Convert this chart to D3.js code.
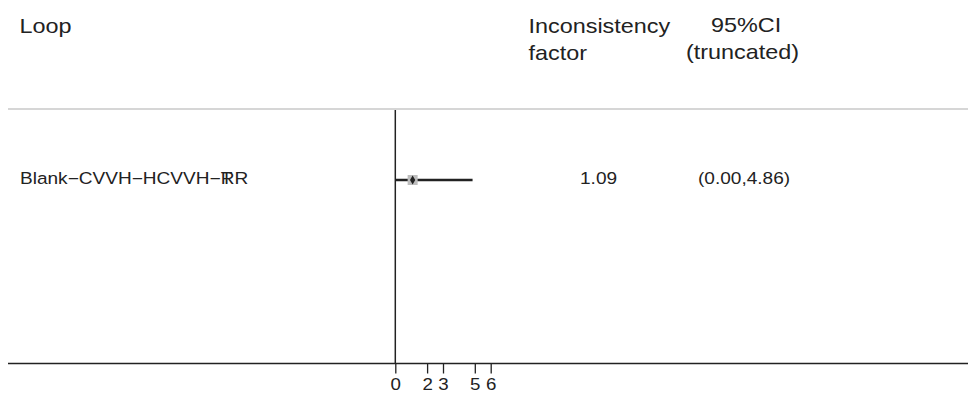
<!DOCTYPE html>
<html>
<head>
<meta charset="utf-8">
<script src="https://cdn.jsdelivr.net/npm/d3@7"></script>
<style>
  body { margin: 0; background: #fff; }
  text { font-family: "Liberation Sans", Arial, sans-serif; fill: #222; }
</style>
</head>
<body>
<svg id="chart" width="972" height="397"></svg>
<script>
// data
var loops = ["Blank\u2212CVVH\u2212HCVVH\u2212TRR"];
var ifValues = [1.09];
var ciLow = [0.00];
var ciHigh = [4.86];
var ifLabels = ["1.09"];
var ciLabels = ["(0.00,4.86)"];
var xTicks = [0, 2, 3, 5, 6];

var svg = d3.select("#chart");
// the original text is a bit wide, so stretch it horizontally
var stretch = 1.17;
var headSize = 20, bodySize = 16.3, tickSize = 16;

var x = d3.scaleLinear().domain([0, 6]).range([395.3, 490.7]);
var y = d3.scaleLinear().domain([0, 1]).range([180, 230]);

var axisY = 363.5;

function addText(parent, px, py, str, size) {
    return parent.append("text")
        .attr("transform", "translate(" + px + "," + py + ") scale(" + stretch + ",1)")
        .style("font-size", size + "px")
        .text(str);
}

// header
addText(svg, 19.5, 33, "Loop", headSize);
addText(svg, 528.5, 33, "Inconsistency", headSize);
addText(svg, 528.5, 60, "factor", headSize);
addText(svg, 711, 32, "95%CI", headSize);
addText(svg, 686, 59, "(truncated)", headSize);

// grey separator under header
svg.append("line")
    .attr("x1", 8).attr("x2", 968)
    .attr("y1", 109).attr("y2", 109)
    .attr("stroke", "#c8c8c8").attr("stroke-width", 1.5);

// vertical reference line at 0
svg.append("line")
    .attr("x1", x(0)).attr("x2", x(0))
    .attr("y1", 110).attr("y2", axisY)
    .attr("stroke", "#222").attr("stroke-width", 1.5);

// x axis
var axisX = d3.axisBottom(x).tickValues(xTicks).tickSize(10).tickFormat(d3.format("d"));
var gx = svg.append("g").attr("transform", "translate(0," + axisY + ")").call(axisX);
gx.select(".domain").remove();
gx.selectAll(".tick line").attr("stroke", "#222").attr("stroke-width", 1.3);
gx.selectAll(".tick text")
    .attr("y", 27).attr("dy", null)
    .attr("transform", "scale(" + stretch + ",1)")
    .style("font-size", tickSize + "px")
    .style("font-family", "'Liberation Sans', Arial, sans-serif")
    .attr("fill", "#222");
svg.append("line")
    .attr("x1", 8).attr("x2", 968)
    .attr("y1", axisY).attr("y2", axisY)
    .attr("stroke", "#222").attr("stroke-width", 1.5);

// rows
var rows = svg.selectAll(".row").data(loops).enter().append("g").attr("class", "row");

rows.each(function(d, i) {
    var g = d3.select(this);
    var base = y(i) + 4;
    // the last "T" and "R" are drawn on top of each other in the original
    var head = addText(g, 20, base, d.slice(0, d.length - 3), bodySize);
    var w = head.node().getComputedTextLength() * stretch;
    addText(g, 20 + w, base, "T", bodySize);
    addText(g, 20 + w, base, "RR", bodySize);
    addText(g, 580, base, ifLabels[i], bodySize);
    addText(g, 698, base, ciLabels[i], bodySize);
});

rows.append("line")
    .attr("x1", function(d, i) { return x(ciLow[i]); })
    .attr("x2", function(d, i) { return x(ciHigh[i]); })
    .attr("y1", function(d, i) { return y(i); })
    .attr("y2", function(d, i) { return y(i); })
    .attr("stroke", "#222").attr("stroke-width", 2.5);

rows.append("rect")
    .attr("x", function(d, i) { return x(ifValues[i]) - 5; })
    .attr("y", function(d, i) { return y(i) - 5; })
    .attr("width", 10).attr("height", 10)
    .attr("fill", "#bdbdbd");

rows.append("path")
    .attr("d", d3.symbol().type(d3.symbolDiamond).size(24))
    .attr("transform", function(d, i) { return "translate(" + x(ifValues[i]) + "," + y(i) + ")"; })
    .attr("fill", "#222");
</script>
</body>
</html>
